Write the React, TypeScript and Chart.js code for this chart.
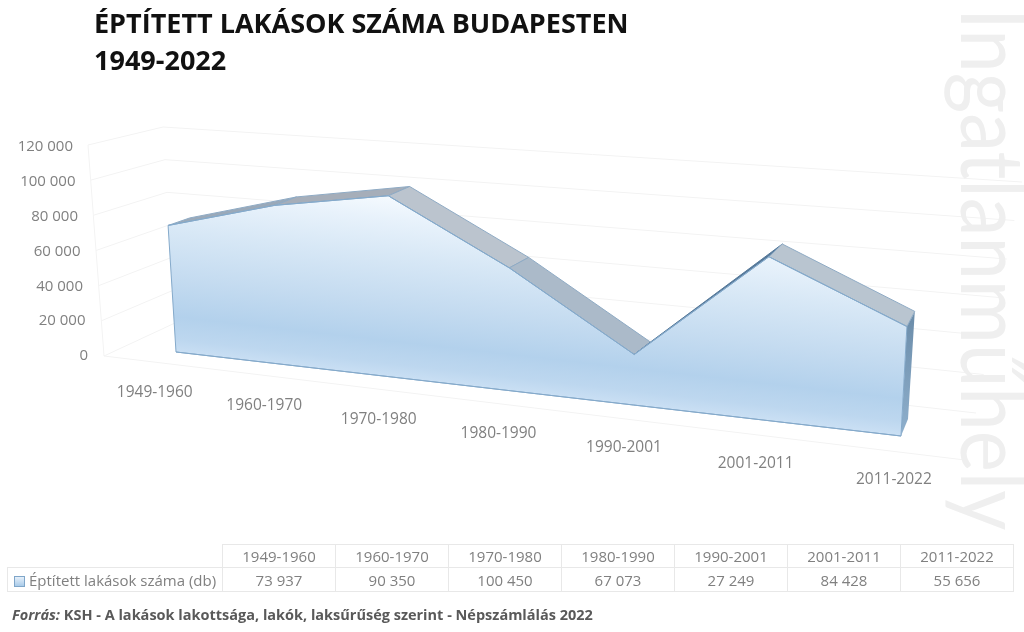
import React, { useEffect, useRef } from "react";
import { Chart, registerables } from "chart.js";

Chart.register(...registerables);

const TITLE_LINES = ["ÉPTÍTETT LAKÁSOK SZÁMA BUDAPESTEN", "1949-2022"];
const SERIES_NAME = "Éptített lakások száma (db)";
const CATEGORIES = ["1949-1960", "1960-1970", "1970-1980", "1980-1990", "1990-2001", "2001-2011", "2011-2022"];
const VALUES = [73937, 90350, 100450, 67073, 27249, 84428, 55656];
const BASELINE = [0, 0, 0, 0, 0, 0, 0];
const WATERMARK = "Ingatlanműhely";
const UI_FONT = "'Open Sans', sans-serif";

type P = [number, number];
// Perspective planes of the 3D box: corners are (u,v) = (0,0), (1,0), (1,1), (0,1)
const FRONT_PLANE: P[] = [[176, 352], [901, 436], [914, 195], [163, 144]];
const BACK_PLANE: P[] = [[197, 345], [908, 419], [923, 182], [185, 136]];
const NEAR_PLANE: P[] = [[153, 358], [895, 441], [904, 208], [139, 154]];

function makeHomography(q: P[]) {
  const [[x0, y0], [x1, y1], [x2, y2], [x3, y3]] = q;
  const dx1 = x1 - x2, dx2 = x3 - x2, sx = x0 - x1 + x2 - x3;
  const dy1 = y1 - y2, dy2 = y3 - y2, sy = y0 - y1 + y2 - y3;
  const det = dx1 * dy2 - dx2 * dy1;
  const g = (sx * dy2 - dx2 * sy) / det;
  const h = (dx1 * sy - sx * dy1) / det;
  const a = x1 - x0 + g * x1, b = x3 - x0 + h * x3;
  const d = y1 - y0 + g * y1, e = y3 - y0 + h * y3;
  return (u: number, v: number): P => {
    const w = g * u + h * v + 1;
    return [(a * u + b * v + x0) / w, (d * u + e * v + y0) / w];
  };
}
const front = makeHomography(FRONT_PLANE);
const back = makeHomography(BACK_PLANE);
const near = makeHomography(NEAR_PLANE);

const lerp = (a: number, b: number, t: number) => a + (b - a) * t;
const spaced = (v: number) => String(v).replace(/\B(?=(\d{3})+$)/g, " ");

function uv(chart: any, px: number, py: number): P {
  const { left, right, top, bottom } = chart.chartArea;
  return [(px - left) / (right - left), (bottom - py) / (bottom - top)];
}

function poly(ctx: CanvasRenderingContext2D, pts: P[]) {
  ctx.beginPath();
  pts.forEach((p, i) => (i ? ctx.lineTo(p[0], p[1]) : ctx.moveTo(p[0], p[1])));
  ctx.closePath();
}

const RIBBON_COLORS = ["#9aa9b9", "#a6aeb9", "#bbc4ce", "#abbac9", "#56799a", "#b9c5d0"];
const RIBBON_EDGES = ["#8eaac4", "#8eaac4", "#8eaac4", "#8eaac4", "#56799a", "#8eaac4"];

const projectionPlugin = {
  id: "projection3d",
  afterLayout(chart: any) {
    const xs = chart.scales.x, ys = chart.scales.y;
    const { top, bottom } = chart.chartArea;
    ys.getLabelItems().forEach((item: any, i: number) => {
      const t = (bottom - ys.getPixelForTick(i)) / (bottom - top);
      item.options.textAlign = "right";
      item.options.textBaseline = "middle";
      item.options.translation = [lerp(88, 73, t), ys.getPixelForTick(i) + 1];
    });
    xs.getLabelItems().forEach((item: any, i: number) => {
      const [u] = uv(chart, xs.getPixelForTick(i), 0);
      const p = near(u, -0.13);
      item.options.textAlign = "center";
      item.options.textBaseline = "middle";
      item.options.translation = [p[0], p[1]];
    });
  },
  afterDatasetsUpdate(chart: any) {
    const xs = chart.scales.x, ys = chart.scales.y;
    chart.data.datasets.forEach((ds: any, di: number) => {
      chart.getDatasetMeta(di).data.forEach((el: any, i: number) => {
        const [u, v] = uv(chart, xs.getPixelForValue(i), ys.getPixelForValue(ds.data[i]));
        const p = front(u, v);
        el.x = p[0];
        el.y = p[1];
      });
    });
  },
  beforeDatasetsDraw(chart: any) {
    const ctx: CanvasRenderingContext2D = chart.ctx;
    const xs = chart.scales.x, ys = chart.scales.y;
    const { top, bottom } = chart.chartArea;
    ctx.save();
    // walls and floor
    ctx.strokeStyle = "#f3f3f3";
    ctx.lineWidth = 1;
    ys.ticks.forEach((_: any, i: number) => {
      const t = (bottom - ys.getPixelForTick(i)) / (bottom - top);
      ctx.beginPath();
      ctx.moveTo(lerp(104, 88, t), lerp(356, 145, t));
      ctx.lineTo(lerp(175, 163, t), lerp(323, 127, t));
      ctx.lineTo(lerp(976, 1022, t), lerp(413, 182, t));
      ctx.stroke();
    });
    ctx.beginPath();
    ctx.moveTo(88, 145);
    ctx.lineTo(104, 356);
    ctx.lineTo(965, 460);
    ctx.stroke();

    const n = VALUES.length;
    const us = VALUES.map((_, i) => uv(chart, xs.getPixelForValue(i), 0)[0]);
    const vs = VALUES.map((val) => uv(chart, 0, ys.getPixelForValue(val))[1]);
    const zero = uv(chart, 0, ys.getPixelForValue(BASELINE[0]))[1];

    // right-hand side face
    const sideGrad = ctx.createLinearGradient(0, 320, 0, 436);
    sideGrad.addColorStop(0, "#6d8eab");
    sideGrad.addColorStop(1, "#8fb0cd");
    poly(ctx, [front(us[n - 1], vs[n - 1]), back(us[n - 1], vs[n - 1]), back(us[n - 1], zero), front(us[n - 1], zero)]);
    ctx.fillStyle = sideGrad;
    ctx.fill();

    // top ribbon
    for (let i = 0; i < n - 1; i++) {
      poly(ctx, [front(us[i], vs[i]), front(us[i + 1], vs[i + 1]), back(us[i + 1], vs[i + 1]), back(us[i], vs[i])]);
      ctx.fillStyle = RIBBON_COLORS[i];
      ctx.strokeStyle = RIBBON_EDGES[i];
      ctx.fill();
      ctx.stroke();
    }

    // front face
    const pts: P[] = [...VALUES.map((_, i) => front(us[i], vs[i])), front(us[n - 1], zero), front(us[0], zero)];
    const grad = ctx.createLinearGradient(388, 190, 388 - 21, 376);
    grad.addColorStop(0, "#f8fcff");
    grad.addColorStop(0.15, "#e8f2fb");
    grad.addColorStop(0.34, "#d8e8f6");
    grad.addColorStop(0.6, "#c4dbf0");
    grad.addColorStop(0.8, "#b3d1ec");
    grad.addColorStop(0.92, "#bdd7ef");
    grad.addColorStop(1, "#cbe0f4");
    poly(ctx, pts);
    ctx.fillStyle = grad;
    ctx.fill();
    ctx.strokeStyle = "#84a9ca";
    ctx.stroke();
    ctx.restore();
  },
};

export default function App() {
  const ref = useRef<HTMLCanvasElement | null>(null);

  useEffect(() => {
    const chart = new Chart(ref.current as HTMLCanvasElement, {
      type: "line",
      data: {
        labels: CATEGORIES,
        datasets: [
          { label: SERIES_NAME, data: VALUES, borderColor: "#84a9ca", borderWidth: 1, pointRadius: 0, fill: false, clip: false, tension: 0 },
          { label: "base", data: BASELINE, borderColor: "#84a9ca", borderWidth: 1, pointRadius: 0, fill: false, clip: false, tension: 0 },
        ],
      } as any,
      options: {
        responsive: false,
        animation: false,
        events: [],
        layout: { padding: { left: 0, top: 146, right: 119, bottom: 0 } },
        plugins: { legend: { display: false }, tooltip: { enabled: false }, title: { display: false } },
        scales: {
          x: {
            type: "category",
            offset: false,
            grid: { display: false },
            border: { display: false },
            afterFit: (s: any) => { s.height = 277; },
            ticks: { color: "#808080", font: { family: UI_FONT, size: 15.5 }, autoSkip: false, maxRotation: 0, minRotation: 0 },
          },
          y: {
            type: "linear",
            min: 0,
            max: 120000,
            grid: { display: false },
            border: { display: false },
            afterFit: (s: any) => { s.width = 105; },
            ticks: { stepSize: 20000, color: "#808080", font: { family: UI_FONT, size: 15 }, callback: (v: any) => spaced(Number(v)) },
          },
        },
      } as any,
      plugins: [projectionPlugin],
    });
    return () => chart.destroy();
  }, []);

  const cell: React.CSSProperties = { border: "1px solid #e8e8e8", textAlign: "center", padding: 0, color: "#808080" };
  return (
    <div style={{ position: "absolute", left: 0, top: 0, width: 1024, height: 632, overflow: "hidden", background: "#fff", fontFamily: UI_FONT }}>
      <canvas ref={ref} width={1024} height={632} style={{ position: "absolute", left: 0, top: 0 }} />
      <div style={{ position: "absolute", left: 94, top: 4, fontSize: 27, lineHeight: "37px", fontWeight: 700, color: "#111", whiteSpace: "nowrap" }}>
        {TITLE_LINES.map((t) => <div key={t}>{t}</div>)}
      </div>
      <div style={{ position: "absolute", left: 951, top: 8, transformOrigin: "0 0", transform: "rotate(90deg) scaleX(0.885) translateY(-88px)", fontSize: 88, lineHeight: "88px", fontWeight: 400, color: "#efefef", whiteSpace: "nowrap", height: 88, pointerEvents: "none", fontFamily: "Lato, sans-serif" }}>
        {WATERMARK}
      </div>
      <table style={{ position: "absolute", left: 7, top: 544, width: 1006, height: 47, borderCollapse: "collapse", tableLayout: "fixed", fontSize: 15 }}>
        <colgroup>
          <col style={{ width: 215 }} />
          {CATEGORIES.map((c) => <col key={c} style={{ width: 113 }} />)}
        </colgroup>
        <tbody>
          <tr style={{ height: 23 }}>
            <td style={{ border: "none", borderBottom: "1px solid #e8e8e8", padding: 0 }} />
            {CATEGORIES.map((c) => <td key={c} style={cell}>{c}</td>)}
          </tr>
          <tr style={{ height: 24 }}>
            <td style={{ ...cell, textAlign: "left", whiteSpace: "nowrap", paddingLeft: 6 }}>
              <span style={{ display: "inline-block", width: 9, height: 9, marginRight: 4, border: "1px solid #7fa6c9", background: "linear-gradient(#e6f0fa,#a9cbe9)", verticalAlign: "-1px" }} />
              {SERIES_NAME}
            </td>
            {VALUES.map((v, i) => <td key={CATEGORIES[i]} style={cell}>{spaced(v)}</td>)}
          </tr>
        </tbody>
      </table>
      <div style={{ position: "absolute", left: 12, top: 605, fontSize: 14.5, lineHeight: "20px", fontWeight: 700, color: "#595959", whiteSpace: "nowrap" }}>
        <i>Forrás:</i> KSH - A lakások lakottsága, lakók, laksűrűség szerint - Népszámlálás 2022
      </div>
    </div>
  );
}
